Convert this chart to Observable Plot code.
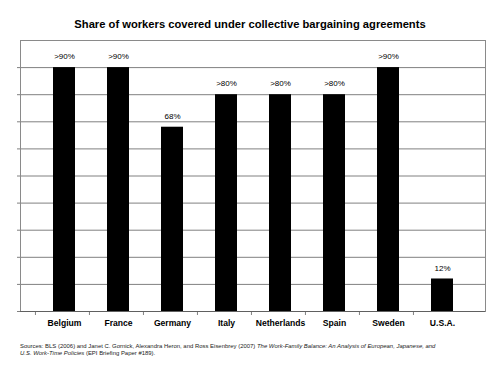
<!DOCTYPE html>
<html><head><meta charset="utf-8">
<script src="https://cdn.jsdelivr.net/npm/d3@7"></script>
<script src="https://cdn.jsdelivr.net/npm/@observablehq/plot@0.6"></script>
<style>
body{margin:0;background:#fff;font-family:"Liberation Sans",Arial,sans-serif;width:500px;height:373px;overflow:hidden}
#title{height:30px;line-height:20px;padding-top:14px;box-sizing:border-box;text-align:center;font-weight:bold;font-size:11.2px;color:#000}
#caption{margin-left:20px;width:470px;font-size:5.95px;line-height:7px;color:#222;margin-top:3px;white-space:nowrap}
svg{display:block}
</style></head>
<body>
<div id="title">Share of workers covered under collective bargaining agreements</div>
<div id="chart"></div>
<div id="caption">Sources: BLS (2006) and Janet C. Gornick, Alexandra Heron, and Ross Eisenbrey (2007) <i>The Work-Family Balance: An Analysis of European, Japanese, and</i><br><i>U.S. Work-Time Policies</i> (EPI Briefing Paper #189).</div>
<script>
const countries = ["Belgium","France","Germany","Italy","Netherlands","Spain","Sweden","U.S.A."];
const shares = [90,90,68,80,80,80,90,12];
const shareLabels = [">90%",">90%","68%",">80%",">80%",">80%",">90%","12%"];
const gridTicks = [10,20,30,40,50,60,70,80,90];

const data = countries.map((c,i)=>({country:c, share:shares[i], label:shareLabels[i]}));

const W = 500, ML = 20, MR = 15;
const half = (W-ML-MR)/countries.length/2;

const plot = Plot.plot({
  width: W, height: 310,
  marginLeft: ML, marginRight: MR, marginTop: 10, marginBottom: 29,
  style:{fontFamily:"'Liberation Sans', Arial, sans-serif", background:"#fff", color:"#000"},
  x:{domain:countries, padding:0.6, align:0.5},
  y:{domain:[0,100]},
  marks:[
    Plot.ruleY(gridTicks,{stroke:"#808080", strokeWidth:1}),
    Plot.barY(data,{x:"country", y:"share", fill:"#000"}),
    Plot.text(data,{x:"country", y:"share", text:"label", dy:-11, fontSize:8, fill:"#000"}),
    Plot.frame({stroke:"#8a8a8a", strokeWidth:1}),
    Plot.axisY({ticks:[0,...gridTicks], tickSize:3, text:null, label:null, stroke:"#808080"}),
    Plot.axisX({tickSize:4, text:null, label:null, dx:-half, stroke:"#808080"}),
    Plot.axisX({tickSize:0, tickPadding:8, fontSize:8.6, fontWeight:"bold", fill:"#000", label:null}),
    Plot.ruleY([0],{stroke:"#606060"})
  ]
});
document.getElementById("chart").appendChild(plot);
</script>
</body></html>
